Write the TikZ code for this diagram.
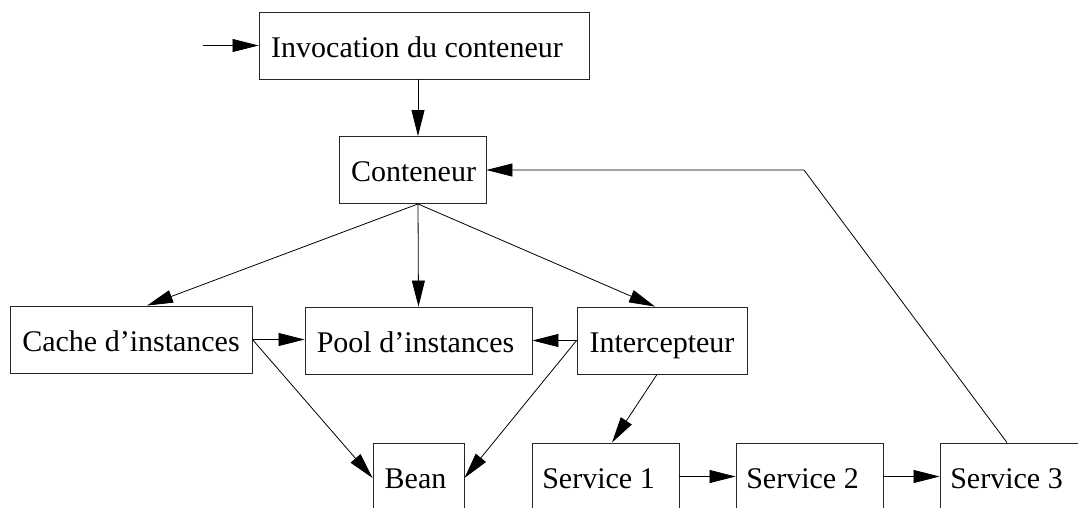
\documentclass[tikz,border=0pt]{standalone}
\usepackage{fontspec}
\setmainfont{Liberation Serif}
\usetikzlibrary{arrows.meta}
\begin{document}
\begin{tikzpicture}[x=1pt,y=-1pt,
  box/.style={draw=black!85, line width=0.9pt, rectangle, inner sep=0pt,
    minimum height=67pt, text height=27pt, text depth=4pt,
    font=\fontsize{30}{36}\selectfont},
  conn/.style={line width=0.8pt, -{Triangle[length=26pt,width=13pt]}}]
\useasboundingbox (0,0) rectangle (1078,507);
\clip (0,0) rectangle (1078,507);
\node[box, minimum width=330pt] (inv) at (424,45.5) {Invocation du conteneur\hspace*{14pt}};
\node[box, minimum width=147pt] (cont) at (412.5,170) {\hspace*{2pt}Conteneur};
\node[box, minimum width=242pt] (cache) at (131,339.5) {Cache d’instances};
\node[box, minimum width=227pt] (pool) at (418.5,340.5) {Pool d’instances\hspace*{6pt}};
\node[box, minimum width=170pt] (inter) at (662,340.5) {Intercepteur};
\node[box, minimum width=91pt] (bean) at (418.5,476.5) {Bean\hspace*{6pt}};
\node[box, minimum width=147pt] (s1) at (605.5,476.5) {Service 1\hspace*{14pt}};
\node[box, minimum width=147pt] (s2) at (809.5,476.5) {Service 2\hspace*{14pt}};
\node[box, minimum width=147pt] (s3) at (1013.5,476.5) {Service 3\hspace*{14pt}};
\coordinate (start) at (203,45.5);
\coordinate (bend) at (804,170);
\draw[conn] (start) -- (inv.west);
\draw[conn] ([xshift=-6pt]inv.south) -- ([xshift=5.5pt]cont.north);
\draw[conn] ([xshift=5.5pt]cont.south) -- ([xshift=16pt]cache.north);
\draw[conn] ([xshift=5.5pt]cont.south) -- (pool.north);
\draw[conn] ([xshift=5.5pt]cont.south) -- ([xshift=-7pt]inter.north);
\draw[conn] (cache.east) -- (cache.east -| pool.west);
\draw[conn] (cache.east) -- ([yshift=-1.5pt]bean.west);
\draw[conn] (inter.west) -- (pool.east);
\draw[conn] (inter.west) -- ([yshift=-1.5pt]bean.east);
\draw[conn] ([xshift=-5pt]inter.south) -- ([xshift=6.5pt]s1.north);
\draw[conn] (s1.east) -- (s2.west);
\draw[conn] (s2.east) -- (s3.west);
\draw[conn] ([xshift=-6.5pt]s3.north) -- (bend) -- (cont.east);
\end{tikzpicture}
\end{document}
